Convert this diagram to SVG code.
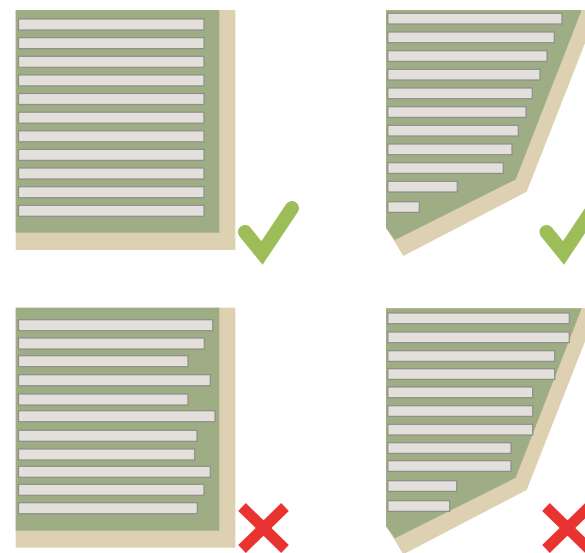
<svg xmlns="http://www.w3.org/2000/svg" width="585" height="553" viewBox="0 0 585 553">
<defs>
<style>
.tan{fill:#ded1b1}
.grn{fill:#9fad84}
.bar{fill:#e3dfda;stroke:#8e8e8c;stroke-width:1.2}
.chk{fill:none;stroke:#9dbd59;stroke-width:14;stroke-linecap:round;stroke-linejoin:miter}
.x{fill:none;stroke:#e83330;stroke-width:11;stroke-linecap:butt}
</style>
</defs>
<rect width="585" height="553" fill="#ffffff"/>

<g id="panel-top-left">
<rect class="tan" x="15.7" y="10" width="219.6" height="240"/>
<rect class="grn" x="15.7" y="10" width="203.6" height="222.7"/>
<rect class="bar" x="18.5" y="19" width="185.5" height="11"/>
<rect class="bar" x="18.5" y="37.6" width="185.5" height="11"/>
<rect class="bar" x="18.5" y="56.3" width="185.5" height="11"/>
<rect class="bar" x="18.5" y="74.9" width="185.5" height="11"/>
<rect class="bar" x="18.5" y="93.5" width="185.5" height="11"/>
<rect class="bar" x="18.5" y="112.2" width="185.5" height="11"/>
<rect class="bar" x="18.5" y="130.8" width="185.5" height="11"/>
<rect class="bar" x="18.5" y="149.4" width="185.5" height="11"/>
<rect class="bar" x="18.5" y="168" width="185.5" height="11"/>
<rect class="bar" x="18.5" y="186.7" width="185.5" height="11"/>
<rect class="bar" x="18.5" y="205.3" width="185.5" height="11"/>
</g>

<g id="panel-top-right">
<polygon class="tan" points="386,10 598,10 526.7,191.7 403.3,256 386,228"/>
<polygon class="grn" points="386,10 581.7,10 515.7,179.5 395,240 386,228"/>
<rect class="bar" x="387.8" y="13.3" width="174.2" height="10.7"/>
<rect class="bar" x="387.8" y="32" width="166.5" height="10.7"/>
<rect class="bar" x="387.8" y="50.7" width="159.2" height="10.7"/>
<rect class="bar" x="387.8" y="69.3" width="152.2" height="10.7"/>
<rect class="bar" x="387.8" y="88" width="144.5" height="10.7"/>
<rect class="bar" x="387.8" y="106.7" width="138.2" height="10.7"/>
<rect class="bar" x="387.8" y="125.3" width="130.5" height="10.7"/>
<rect class="bar" x="387.8" y="144" width="124.2" height="10.7"/>
<rect class="bar" x="387.8" y="162.7" width="115.5" height="10.7"/>
<rect class="bar" x="387.8" y="181.3" width="69.5" height="10.7"/>
<rect class="bar" x="387.8" y="201.7" width="31.5" height="10.7"/>
</g>

<g id="panel-bottom-left">
<rect class="tan" x="15.7" y="307.7" width="219.6" height="240"/>
<rect class="grn" x="15.7" y="307.7" width="203.6" height="223"/>
<rect class="bar" x="18.5" y="319.7" width="194.2" height="11"/>
<rect class="bar" x="18.5" y="338" width="185.8" height="11"/>
<rect class="bar" x="18.5" y="355.7" width="169.5" height="11"/>
<rect class="bar" x="18.5" y="374.7" width="191.8" height="11"/>
<rect class="bar" x="18.5" y="394" width="169.5" height="11"/>
<rect class="bar" x="18.5" y="410.7" width="196.5" height="11"/>
<rect class="bar" x="18.5" y="430.3" width="178.5" height="11"/>
<rect class="bar" x="18.5" y="449" width="176.2" height="11"/>
<rect class="bar" x="18.5" y="466.3" width="191.8" height="11"/>
<rect class="bar" x="18.5" y="484.3" width="185.5" height="11"/>
<rect class="bar" x="18.5" y="502.7" width="178.8" height="11"/>
</g>

<g id="panel-bottom-right">
<polygon class="tan" points="386,308.3 598,308.3 526.7,490 403.3,554.3 386,526.3"/>
<polygon class="grn" points="386,308.3 581.7,308.3 515.7,477.8 395,538.3 386,526.3"/>
<rect class="bar" x="387.8" y="313" width="181.5" height="10.7"/>
<rect class="bar" x="387.8" y="332" width="181.5" height="10.7"/>
<rect class="bar" x="387.8" y="350.7" width="166.9" height="10.7"/>
<rect class="bar" x="387.8" y="368.7" width="166.9" height="10.7"/>
<rect class="bar" x="387.8" y="387" width="144.9" height="10.7"/>
<rect class="bar" x="387.8" y="405.7" width="144.9" height="10.7"/>
<rect class="bar" x="387.8" y="424.3" width="144.9" height="10.7"/>
<rect class="bar" x="387.8" y="442.7" width="123.2" height="10.7"/>
<rect class="bar" x="387.8" y="460.7" width="123.2" height="10.7"/>
<rect class="bar" x="387.8" y="480.7" width="68.9" height="10.7"/>
<rect class="bar" x="387.8" y="500.7" width="61.9" height="10.7"/>
</g>

<g id="check-1"><polyline class="chk" points="245,232 262,253 292,208"/></g>
<g id="check-2"><polyline class="chk" points="546.5,232 563.5,253 593.5,208"/></g>
<g id="cross-1">
<line class="x" x1="242" y1="507" x2="285" y2="549"/>
<line class="x" x1="285" y1="507" x2="242" y2="549"/>
</g>
<g id="cross-2">
<line class="x" x1="546" y1="507" x2="589" y2="549"/>
<line class="x" x1="589" y1="507" x2="546" y2="549"/>
</g>
<g id="connectors"/>
</svg>
